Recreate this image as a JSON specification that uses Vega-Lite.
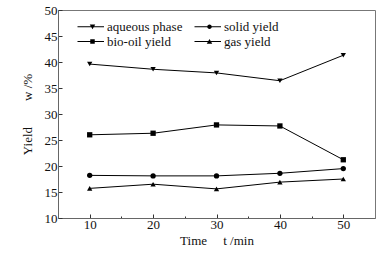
{
  "$schema": "https://vega.github.io/schema/vega-lite/v6.json",
  "width": 317,
  "height": 208,
  "autosize": {"type": "none"},
  "padding": {"left": 58, "top": 10, "right": 13, "bottom": 41},
  "background": "white",
  "config": {
    "font": "Liberation Serif",
    "view": {"stroke": "#777", "strokeWidth": 1},
    "axis": {
      "labelFont": "Liberation Serif",
      "titleFont": "Liberation Serif",
      "labelFontSize": 13,
      "titleFontSize": 13,
      "titleFontWeight": "normal",
      "labelColor": "#111",
      "titleColor": "#111",
      "domainColor": "#666",
      "tickColor": "#333",
      "grid": false
    }
  },
  "data": {
    "values": [
      {"t": 10, "series": "aqueous phase", "y": 39.6},
      {"t": 20, "series": "aqueous phase", "y": 38.6},
      {"t": 30, "series": "aqueous phase", "y": 37.9},
      {"t": 40, "series": "aqueous phase", "y": 36.4},
      {"t": 50, "series": "aqueous phase", "y": 41.3},
      {"t": 10, "series": "bio-oil yield", "y": 26.0},
      {"t": 20, "series": "bio-oil yield", "y": 26.3},
      {"t": 30, "series": "bio-oil yield", "y": 27.9},
      {"t": 40, "series": "bio-oil yield", "y": 27.7},
      {"t": 50, "series": "bio-oil yield", "y": 21.2},
      {"t": 10, "series": "solid yield", "y": 18.2},
      {"t": 20, "series": "solid yield", "y": 18.1},
      {"t": 30, "series": "solid yield", "y": 18.1},
      {"t": 40, "series": "solid yield", "y": 18.6},
      {"t": 50, "series": "solid yield", "y": 19.5},
      {"t": 10, "series": "gas yield", "y": 15.7},
      {"t": 20, "series": "gas yield", "y": 16.5},
      {"t": 30, "series": "gas yield", "y": 15.6},
      {"t": 40, "series": "gas yield", "y": 16.9},
      {"t": 50, "series": "gas yield", "y": 17.5}
    ]
  },
  "encoding": {
    "x": {
      "field": "t",
      "type": "quantitative",
      "scale": {"domain": [5, 55], "nice": false, "zero": false},
      "axis": {
        "title": "Time\u00a0\u00a0\u00a0\u00a0\u00a0t /min",
        "values": [10, 15, 20, 25, 30, 35, 40, 45, 50],
        "labelExpr": "datum.value % 10 == 0 ? datum.label : ''",
        "tickSize": {"condition": {"test": "datum.value % 10 != 0", "value": -2}, "value": -4},
        "labelPadding": 4,
        "titlePadding": 3
      }
    },
    "y": {
      "field": "y",
      "type": "quantitative",
      "scale": {"domain": [10, 50], "nice": false, "zero": false},
      "axis": {
        "title": "Yield\u00a0\u00a0\u00a0\u00a0\u00a0\u00a0\u00a0\u00a0w /%",
        "values": [10, 15, 20, 25, 30, 35, 40, 45, 50],
        "tickSize": -4,
        "labelPadding": 5,
        "titlePadding": 10
      }
    }
  },
  "resolve": {"scale": {"shape": "independent"}},
  "layer": [
    {
      "mark": {"type": "line", "color": "black", "strokeWidth": 1},
      "encoding": {"detail": {"field": "series"}}
    },
    {
      "mark": {"type": "point", "filled": true, "color": "black", "size": 28, "opacity": 1},
      "encoding": {
        "shape": {
          "field": "series",
          "type": "nominal",
          "scale": {
            "domain": ["aqueous phase", "solid yield", "bio-oil yield", "gas yield"],
            "range": ["triangle-down", "circle", "square", "triangle-up"]
          },
          "legend": null
        }
      }
    },
    {
      "transform": [{"filter": "datum.t > 1000"}],
      "mark": {"type": "point", "filled": true, "color": "black", "opacity": 1},
      "encoding": {
        "shape": {
          "field": "series",
          "type": "nominal",
          "scale": {
            "domain": ["aqueous phase", "solid yield", "bio-oil yield", "gas yield"],
            "range": [
              "M-3,-0.1H2.3V0.1H-3ZM-0.55,-0.45L0.55,-0.45L0,0.5Z",
              "M-3,-0.1H2.3V0.1H-3ZM-0.45,0A0.45,0.45,0,1,1,0.45,0A0.45,0.45,0,1,1,-0.45,0Z",
              "M-3,-0.1H2.3V0.1H-3ZM-0.45,-0.45H0.45V0.45H-0.45Z",
              "M-3,-0.1H2.3V0.1H-3ZM0.55,0.45L-0.55,0.45L0,-0.5Z"
            ]
          },
          "legend": {
            "title": null,
            "orient": "none",
            "direction": "horizontal",
            "legendX": 28,
            "legendY": 10,
            "columns": 2,
            "columnPadding": 11,
            "rowPadding": 1,
            "symbolSize": 100,
            "symbolFillColor": "black",
            "symbolStrokeColor": "black",
            "symbolStrokeWidth": 0,
            "labelOffset": 8,
            "labelFont": "Liberation Serif",
            "labelFontSize": 13,
            "labelColor": "#111"
          }
        }
      }
    }
  ]
}
